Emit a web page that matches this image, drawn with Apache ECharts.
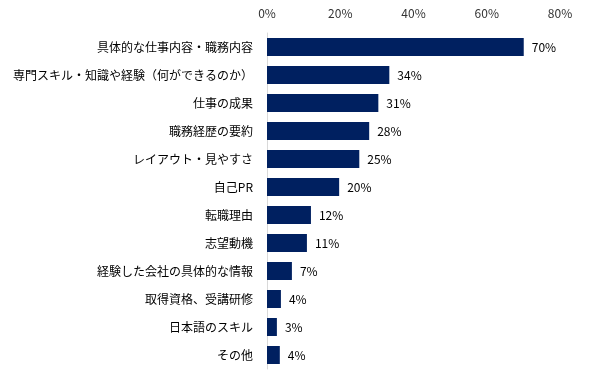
<!DOCTYPE html>
<html><head><meta charset="utf-8">
<script src="https://cdn.jsdelivr.net/npm/echarts@6/dist/echarts.min.js"></script>
<style>html,body{margin:0;padding:0;background:#fff}#c{width:604px;height:381px}</style>
</head><body><div id="c"></div>
<script>
var categories = ["具体的な仕事内容・職務内容","専門スキル・知識や経験（何ができるのか）","仕事の成果","職務経歴の要約","レイアウト・見やすさ","自己PR","転職理由","志望動機","経験した会社の具体的な情報","取得資格、受講研修","日本語のスキル","その他"];
var values = [70.1,33.4,30.4,27.9,25.2,19.7,12.0,10.9,6.8,3.8,2.7,3.5];
var valueLabels = ["70%","34%","31%","28%","25%","20%","12%","11%","7%","4%","3%","4%"];
var tickValues = [0,20,40,60,80];
var font = "'Noto Sans CJK JP', sans-serif";
var chart = echarts.init(document.getElementById('c'));
chart.setOption({
  animation:false,
  grid:{left:267,right:44,top:33,bottom:12,containLabel:false},
  xAxis:{type:'value',position:'top',min:tickValues[0],max:tickValues[tickValues.length-1],interval:20,
    axisLine:{show:false},axisTick:{show:false},splitLine:{show:false},
    axisLabel:{formatter:'{value}%',color:'#333',fontSize:12,fontFamily:font,margin:14}},
  yAxis:{type:'category',inverse:true,data:categories,
    axisLine:{show:true,lineStyle:{color:'#d9d9d9',width:1}},axisTick:{show:false},
    axisLabel:{color:'#000',fontSize:12,fontFamily:font,margin:14}},
  series:[{type:'bar',data:values,barWidth:18,itemStyle:{color:'#002060'},
    label:{show:true,position:'right',distance:8,formatter:function(p){return valueLabels[p.dataIndex];},color:'#000',fontSize:12,fontFamily:font}}]
});
</script></body></html>
